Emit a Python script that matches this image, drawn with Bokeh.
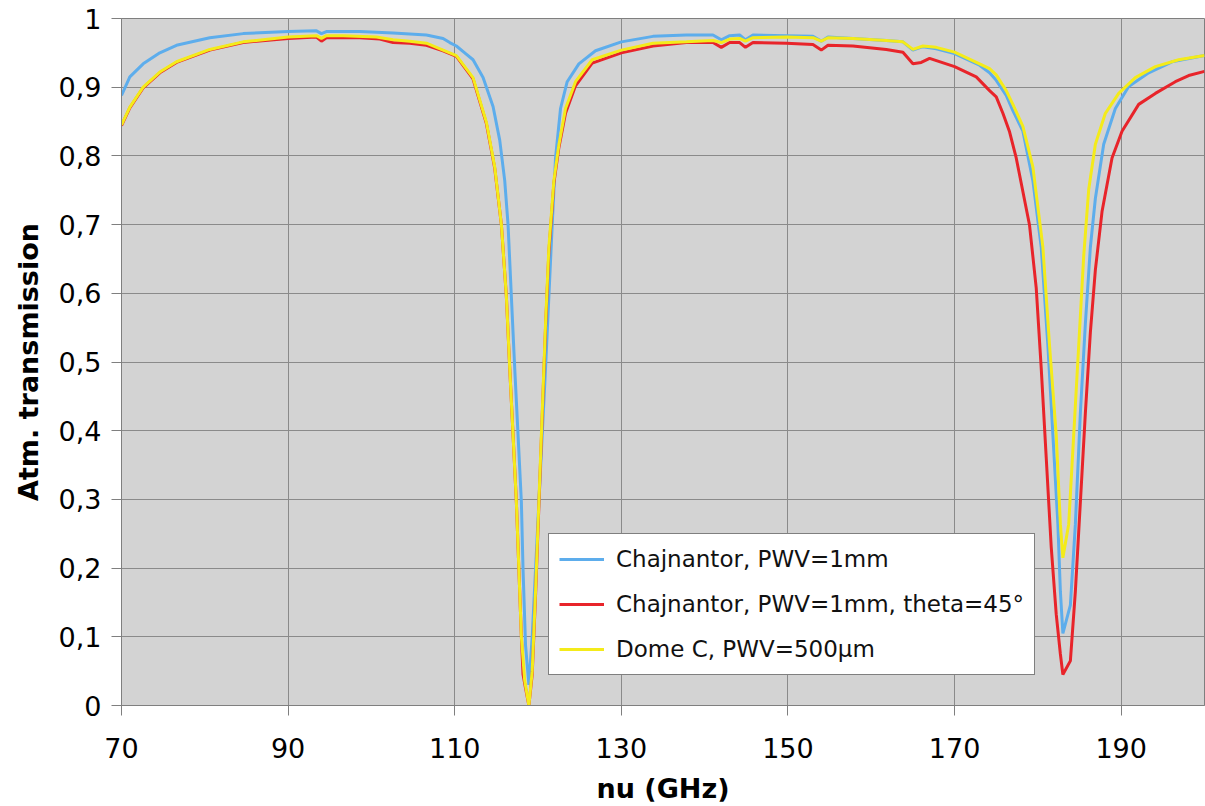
from bokeh.plotting import figure
from bokeh.models import Range1d, FixedTicker, CustomJSTickFormatter, Legend, LegendItem
from bokeh.embed import file_html
from bokeh.resources import INLINE

# ---------------- data ----------------
series_names = ["Chajnantor, PWV=1mm",
                "Chajnantor, PWV=1mm, theta=45°",
                "Dome C, PWV=500µm"]

freq_chaj = [70, 71, 72.6, 74.6, 76.6, 80.6, 84.6, 90, 93.4, 94, 94.6, 98.6, 102.6, 106.6,
             108.6, 109.4, 110.2, 111.2, 112.2, 113.4, 114.6, 115.4, 116.0, 116.4, 116.8,
             117.2, 117.6, 118.0, 118.2, 118.5, 118.9, 119.3, 119.7, 120.1, 120.5, 120.9,
             121.3, 121.7, 122.1, 122.7, 123.5, 124.9, 126.9, 130, 133.8, 137.8, 141, 142,
             143, 144.2, 144.9, 145.8, 149.8, 153, 154, 154.8, 157.8, 161.8, 163.8, 165,
             166.2, 167.8, 170, 173, 174.2, 175, 176.2, 177.0, 178.2, 179.4, 180.4, 181.2,
             181.8, 182.4, 182.7, 183.0, 183.9, 184.5, 185.1, 185.7, 186.3, 186.9, 187.9,
             189.3, 190.9, 193.3, 196.1, 200]
trans_chaj = [0.888, 0.915, 0.934, 0.950, 0.961, 0.972, 0.978, 0.981, 0.982, 0.978, 0.981,
              0.981, 0.979, 0.976, 0.971, 0.965, 0.960, 0.950, 0.940, 0.914, 0.872, 0.823,
              0.764, 0.700, 0.595, 0.491, 0.394, 0.296, 0.198, 0.088, 0.030, 0.100, 0.198,
              0.296, 0.394, 0.491, 0.595, 0.700, 0.797, 0.869, 0.908, 0.934, 0.953, 0.966,
              0.974, 0.976, 0.976, 0.969, 0.975, 0.976, 0.969, 0.976, 0.975, 0.974, 0.967,
              0.973, 0.971, 0.968, 0.966, 0.954, 0.959, 0.956, 0.949, 0.932, 0.921, 0.910,
              0.888, 0.866, 0.836, 0.764, 0.667, 0.524, 0.394, 0.264, 0.166, 0.105, 0.146,
              0.264, 0.426, 0.556, 0.667, 0.738, 0.817, 0.869, 0.901, 0.921, 0.937, 0.946]

freq_chaj45 = [70, 71, 72.6, 74.6, 76.6, 80.6, 84.6, 90, 93.4, 94, 94.6, 98.6, 101, 102.6,
               104.6, 106.6, 108.6, 110.2, 112.2, 113.8, 114.8, 115.6, 116.2, 116.6, 117.0,
               117.4, 117.7, 118.0, 118.2, 118.5, 118.9, 119.3, 119.7, 120.1, 120.5, 120.9,
               121.3, 121.9, 122.5, 123.3, 124.5, 126.5, 130, 133.8, 137.8, 141, 142, 143,
               144.2, 144.9, 145.8, 149.8, 153, 154, 154.8, 157.8, 161.8, 163.8, 165, 166,
               167, 170, 172.6, 174.2, 175, 175.8, 176.6, 177.4, 179.0, 179.8, 180.4, 181.0,
               181.6, 182.2, 182.7, 183.0, 183.9, 184.5, 185.1, 185.7, 186.3, 186.9, 187.7,
               188.9, 190.1, 192.1, 194.1, 196.5, 198.1, 200]
trans_chaj45 = [0.844, 0.870, 0.899, 0.921, 0.936, 0.954, 0.965, 0.971, 0.973, 0.967, 0.972,
                0.972, 0.970, 0.965, 0.964, 0.961, 0.953, 0.945, 0.912, 0.847, 0.782, 0.700,
                0.595, 0.491, 0.394, 0.296, 0.198, 0.100, 0.045, 0.025, 0.000, 0.045, 0.160,
                0.290, 0.420, 0.550, 0.660, 0.760, 0.812, 0.862, 0.902, 0.935, 0.950, 0.960,
                0.965, 0.965, 0.958, 0.965, 0.965, 0.958, 0.965, 0.964, 0.962, 0.954, 0.961,
                0.960, 0.955, 0.951, 0.934, 0.936, 0.942, 0.930, 0.915, 0.895, 0.886, 0.862,
                0.835, 0.797, 0.699, 0.608, 0.491, 0.361, 0.231, 0.133, 0.075, 0.045, 0.065,
                0.166, 0.296, 0.426, 0.543, 0.634, 0.719, 0.797, 0.836, 0.875, 0.891, 0.908,
                0.917, 0.923]

freq_domec = [70, 71, 72.6, 74.6, 76.6, 80.6, 84.6, 90, 93.4, 94, 94.6, 96.6, 100.6, 102.6,
              104.6, 106.6, 108.6, 110.2, 112.2, 113.8, 114.8, 115.6, 116.2, 116.6, 117.0,
              117.4, 117.7, 118.0, 118.4, 118.9, 119.3, 119.7, 120.1, 120.5, 120.9, 121.3,
              121.9, 122.5, 123.3, 124.5, 126.5, 130, 133.8, 137.8, 141, 142, 143, 144.2,
              144.9, 145.8, 149.8, 153, 154, 154.8, 157.8, 161.8, 163.8, 165, 166.2, 167.8,
              170, 173, 174.2, 175, 176.2, 177.0, 178.2, 179.4, 180.6, 181.4, 182.2, 182.7,
              183.0, 183.7, 184.3, 184.9, 185.5, 186.1, 186.9, 188.1, 189.7, 191.7, 194.1,
              196.9, 200]
trans_domec = [0.845, 0.871, 0.900, 0.922, 0.937, 0.955, 0.966, 0.973, 0.975, 0.971, 0.975,
               0.975, 0.973, 0.969, 0.967, 0.964, 0.954, 0.946, 0.914, 0.849, 0.784, 0.700,
               0.595, 0.491, 0.394, 0.296, 0.198, 0.100, 0.036, 0.000, 0.050, 0.166, 0.296,
               0.426, 0.556, 0.667, 0.764, 0.816, 0.869, 0.908, 0.940, 0.954, 0.964, 0.966,
               0.968, 0.965, 0.970, 0.971, 0.967, 0.972, 0.973, 0.972, 0.967, 0.972, 0.971,
               0.968, 0.966, 0.955, 0.960, 0.958, 0.951, 0.934, 0.927, 0.918, 0.895, 0.875,
               0.843, 0.784, 0.667, 0.524, 0.394, 0.264, 0.215, 0.264, 0.394, 0.524, 0.654,
               0.751, 0.817, 0.862, 0.891, 0.914, 0.930, 0.940, 0.946]

x_ticks = [70, 90, 110, 130, 150, 170, 190]
y_ticks = [0, 0.1, 0.2, 0.3, 0.4, 0.5, 0.6, 0.7, 0.8, 0.9, 1]

colors = ["#5DADEC", "#E8242A", "#F4EB1A"]

# ---------------- figure ----------------
p = figure(width=1205, height=806, output_backend="svg", toolbar_location=None,
           x_range=Range1d(70, 200), y_range=Range1d(0, 1),
           min_border_left=121, min_border_right=1, min_border_top=18,
           min_border_bottom=101)
p.background_fill_color = "#D3D3D3"
p.border_fill_color = "white"
p.outline_line_color = "#7F7F7F"
p.outline_line_width = 1

r1 = p.line(freq_chaj, trans_chaj, line_color=colors[0], line_width=3)
r2 = p.line(freq_chaj45, trans_chaj45, line_color=colors[1], line_width=3)
r3 = p.line(freq_domec, trans_domec, line_color=colors[2], line_width=3)

for g in (p.xgrid, p.ygrid):
    g.grid_line_color = "#8A8A8A"
    g.grid_line_width = 1

p.xaxis.ticker = FixedTicker(ticks=x_ticks)
p.yaxis.ticker = FixedTicker(ticks=y_ticks)
p.yaxis.formatter = CustomJSTickFormatter(code="""
    if (Math.abs(tick) < 1e-9) return "0";
    if (Math.abs(tick - 1) < 1e-9) return "1";
    return tick.toFixed(1).replace('.', ',');
""")

for ax in (p.xaxis[0], p.yaxis[0]):
    ax.axis_line_color = "#7F7F7F"
    ax.major_tick_line_color = "#7F7F7F"
    ax.major_tick_out = 10
    ax.major_tick_in = 0
    ax.minor_tick_line_color = None
    ax.major_label_text_font = "DejaVu Sans"
    ax.major_label_text_font_size = "27px"
    ax.major_label_text_color = "black"
    ax.axis_label_text_font = "DejaVu Sans"
    ax.axis_label_text_font_size = "27px"
    ax.axis_label_text_font_style = "bold"
    ax.axis_label_text_color = "black"

p.xaxis.axis_label = "nu (GHz)"
p.yaxis.axis_label = "Atm. transmission"
p.xaxis.major_label_standoff = 22
p.xaxis.axis_label_standoff = 12
p.yaxis.major_label_standoff = 10
p.yaxis.axis_label_standoff = 12

legend = Legend(items=[LegendItem(label=series_names[0], renderers=[r1]),
                       LegendItem(label=series_names[1], renderers=[r2]),
                       LegendItem(label=series_names[2], renderers=[r3])],
                location=(427, 30))
legend.background_fill_color = "white"
legend.background_fill_alpha = 1
legend.border_line_color = "black"
legend.border_line_width = 1.5
legend.label_text_font = "DejaVu Sans"
legend.label_text_font_size = "23px"
legend.label_text_color = "#111111"
legend.glyph_width = 45
legend.glyph_height = 30
legend.label_height = 30
legend.spacing = 15
legend.padding = 10
legend.margin = 0
legend.label_standoff = 12
p.add_layout(legend)

open("out.html", "w").write(file_html(p, INLINE))
